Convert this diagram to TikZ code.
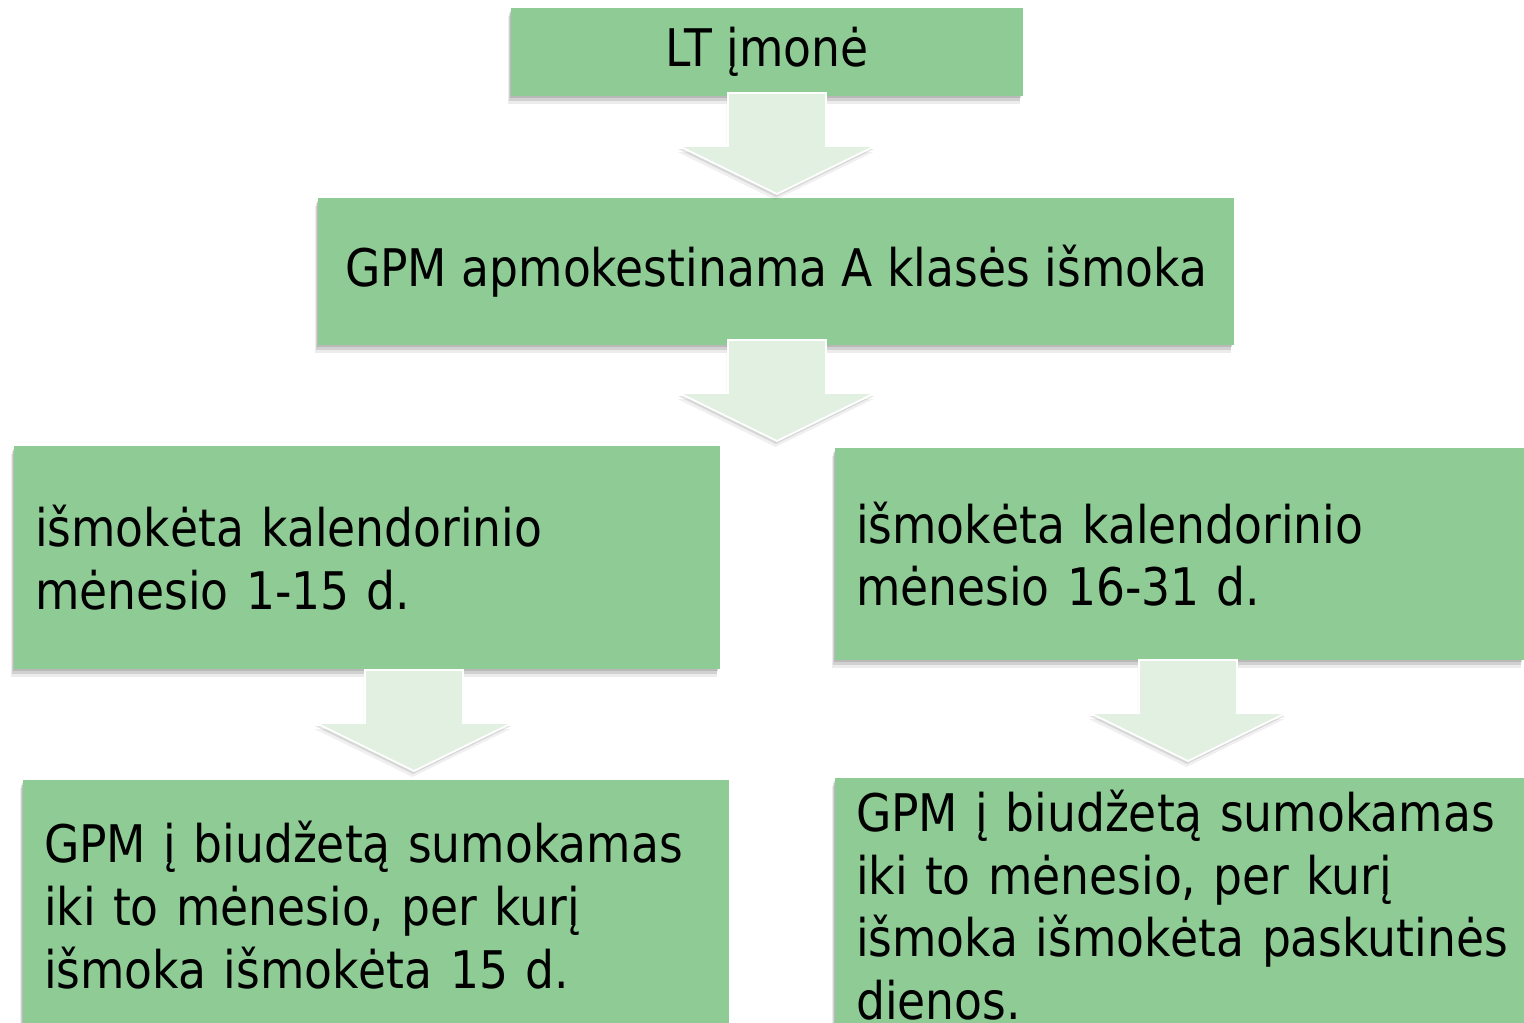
\documentclass[tikz,border=0pt]{standalone}
\usepackage{fontspec}
\setmainfont{DejaVu Sans}[FakeStretch=0.88]
\usetikzlibrary{shadows}

\definecolor{boxgreen}{HTML}{8FCB95}
\definecolor{arrowgreen}{HTML}{E1F0E0}

\tikzset{
	box/.style={fill=boxgreen, inner xsep=0.42cm, inner ysep=0pt, align=left,
		font=\fontsize{29.5}{35.7}\selectfont,
		drop shadow={shadow xshift=-0.06cm, shadow yshift=-0.16cm, opacity=0.15},
		drop shadow={shadow xshift=-0.05cm, shadow yshift=-0.1cm, opacity=0.25},
		drop shadow={shadow xshift=-0.03cm, shadow yshift=-0.05cm, opacity=0.3}},
	downarrow/.pic={
		\fill[arrowgreen, draw=white, line width=1pt,
		drop shadow={shadow xshift=-0.03cm, shadow yshift=-0.12cm, opacity=0.12},
		drop shadow={shadow xshift=-0.02cm, shadow yshift=-0.06cm, opacity=0.22}]
		(-49,0) -- (49,0) -- (49,53) -- (98,53) -- (0,101) -- (-98,53) -- (-49,53) -- cycle;
	}
}

\begin{document}
\begin{tikzpicture}[x=0.02cm, y=-0.02cm]
		
		\useasboundingbox (0,0) rectangle (1524,1022);
		
		% Boxes
		\node[box, align=center, minimum width=10.24cm, minimum height=1.76cm] (firm) at (767,52) {LT įmonė};
		\node[box, align=center, minimum width=18.32cm, minimum height=2.94cm] (payout) at (776,271.5) {GPM apmokestinama A klasės išmoka};
		\node[box, text width=13.28cm, minimum height=4.46cm] (early) at (367,557.5) {\mbox{išmokėta kalendorinio}\\ \mbox{mėnesio 1-15 d.}};
		\node[box, text width=12.94cm, minimum height=4.24cm] (late) at (1179.5,554) {\mbox{išmokėta kalendorinio}\\ \mbox{mėnesio 16-31 d.}};
		\node[box, text width=13.28cm, minimum height=5.0cm] (earlypay) at (376,905) {\mbox{GPM į biudžetą sumokamas}\\ \mbox{iki to mėnesio, per kurį}\\ \mbox{išmoka išmokėta 15 d.}};
		\node[box, text width=12.94cm, minimum height=5.08cm] (latepay) at (1179.5,905) {\mbox{GPM į biudžetą sumokamas}\\ \mbox{iki to mėnesio, per kurį}\\ \mbox{išmoka išmokėta paskutinės}\\ \mbox{dienos.}};
		
		% Arrows
		\pic at (777,93) {downarrow};
		\pic at (777,340) {downarrow};
		\pic at (414,670) {downarrow};
		\pic at (1188,660) {downarrow};
		
	\end{tikzpicture}
\end{document}
